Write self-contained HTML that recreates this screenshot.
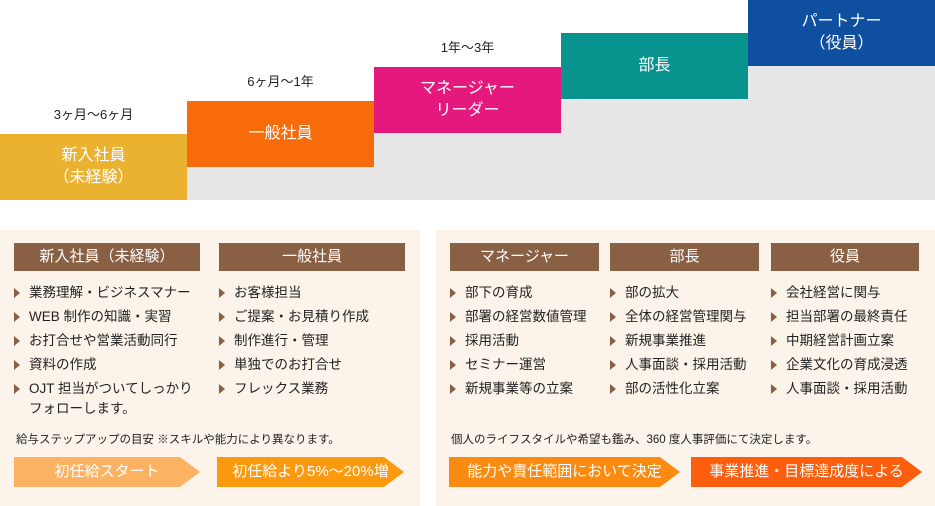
<!DOCTYPE html>
<html><head><meta charset="utf-8"><style>
body{margin:0;width:935px;height:506px;background:#fff;position:relative;overflow:hidden;font-family:"Liberation Sans","Noto Sans CJK JP",sans-serif;}
.a{position:absolute}
.step{position:absolute;color:#fff;font-size:16px;text-align:center;display:flex;align-items:center;justify-content:center;line-height:22px;width:187px;height:66px}
.lbl{position:absolute;font-size:13px;color:#222;text-align:center;width:187px}
.panel{position:absolute;background:#fcf4ea;top:230px;height:276px}
.hd{position:absolute;background:#8a6045;color:#fff;font-size:15px;text-align:center;height:28px;line-height:28px;top:243px}
.list{position:absolute;top:281px;font-size:13.5px;color:#222;line-height:24px;margin:0;padding:0;list-style:none}
.list li{position:relative;padding-left:15px}
.list li:before{content:"";position:absolute;left:0;top:7px;border-left:6px solid #8a6045;border-top:5px solid transparent;border-bottom:5px solid transparent}
.arr{position:absolute;top:457px;height:30px;line-height:30px;color:#fff;font-size:15px;text-align:center;clip-path:polygon(0 0,calc(100% - 20px) 0,100% 50%,calc(100% - 20px) 100%,0 100%)}
.note{position:absolute;top:431px;font-size:11.5px;color:#222}
</style></head><body>
<div class="a" style="left:187px;top:167px;width:748px;height:33px;background:#e6e6e6"></div>
<div class="a" style="left:374px;top:133px;width:561px;height:34px;background:#e6e6e6"></div>
<div class="a" style="left:561px;top:99px;width:374px;height:34px;background:#e6e6e6"></div>
<div class="a" style="left:748px;top:66px;width:187px;height:33px;background:#e6e6e6"></div>
<div class="step" style="left:0;top:134px;background:#ebb22f">新入社員<br>（未経験）</div>
<div class="step" style="left:187px;top:101px;background:#f76b0a">一般社員</div>
<div class="step" style="left:374px;top:67px;background:#e5197d">マネージャー<br>リーダー</div>
<div class="step" style="left:561px;top:33px;background:#08938f">部長</div>
<div class="step" style="left:748px;top:0;background:#0f4fa0">パートナー<br>（役員）</div>
<div class="lbl" style="left:0;top:104px">3ヶ月〜6ヶ月</div>
<div class="lbl" style="left:187px;top:71px">6ヶ月〜1年</div>
<div class="lbl" style="left:374px;top:37px">1年〜3年</div>

<div class="panel" style="left:0;width:420px"></div>
<div class="panel" style="left:436px;width:499px"></div>

<div class="hd" style="left:14px;width:186px">新入社員（未経験）</div>
<div class="hd" style="left:219px;width:186px">一般社員</div>
<div class="hd" style="left:450px;width:149px">マネージャー</div>
<div class="hd" style="left:610px;width:149px">部長</div>
<div class="hd" style="left:771px;width:148px">役員</div>

<ul class="list" style="left:14px"><li>業務理解・ビジネスマナー</li><li>WEB 制作の知識・実習</li><li>お打合せや営業活動同行</li><li>資料の作成</li><li style="line-height:20px;padding-top:2px">OJT 担当がついてしっかり<br>フォローします。</li></ul>
<ul class="list" style="left:219px"><li>お客様担当</li><li>ご提案・お見積り作成</li><li>制作進行・管理</li><li>単独でのお打合せ</li><li>フレックス業務</li></ul>
<ul class="list" style="left:450px"><li>部下の育成</li><li>部署の経営数値管理</li><li>採用活動</li><li>セミナー運営</li><li>新規事業等の立案</li></ul>
<ul class="list" style="left:610px"><li>部の拡大</li><li>全体の経営管理関与</li><li>新規事業推進</li><li>人事面談・採用活動</li><li>部の活性化立案</li></ul>
<ul class="list" style="left:771px"><li>会社経営に関与</li><li>担当部署の最終責任</li><li>中期経営計画立案</li><li>企業文化の育成浸透</li><li>人事面談・採用活動</li></ul>

<div class="note" style="left:16px">給与ステップアップの目安 ※スキルや能力により異なります。</div>
<div class="note" style="left:451px">個人のライフスタイルや希望も鑑み、360 度人事評価にて決定します。</div>

<div class="arr" style="left:14px;width:186px;background:#fbb363">初任給スタート</div>
<div class="arr" style="left:217px;width:187px;background:#fb9a0f">初任給より5%〜20%増</div>
<div class="arr" style="left:449px;width:231px;background:#fb8a10">能力や責任範囲において決定</div>
<div class="arr" style="left:691px;width:231px;background:#fd5e0e">事業推進・目標達成度による</div>
</body></html>
